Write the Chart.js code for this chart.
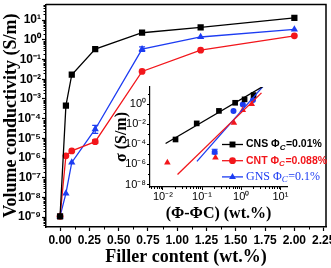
<!DOCTYPE html>
<html><head><meta charset="utf-8">
<script src="https://cdn.jsdelivr.net/npm/chart.js@4/dist/chart.umd.min.js"></script>
<style>
html,body{margin:0;padding:0;background:#fff;}
#wrap{position:relative;width:331px;height:268px;overflow:hidden;}
#main{position:absolute;left:0;top:0;}
#inset{position:absolute;left:100px;top:80px;}
</style></head><body>
<div id="wrap">
<canvas id="main" width="331" height="268"></canvas>
<canvas id="inset" width="231" height="145"></canvas>
</div>
<script>
// ---------- main chart data ----------
const fillerContent = [0, 0.05, 0.1, 0.3, 0.7, 1.2, 2.0];
const cnsValues = [1.1e-9, 4.6e-4, 0.017, 0.34, 2.3, 4.3, 13];
const cntValues = [1.1e-9, 1.3e-6, 2.3e-6, 6.8e-6, 0.025, 0.30, 1.6];
const gnsValues = [1.1e-9, 1.6e-8, 6.0e-7, 2.9e-5, 0.34, 1.4, 3.4];
const cntErrors = [null, null, null, [5.5e-6, 8.5e-6], null, null, null];
const gnsErrors = [null, null, null, [1.8e-5, 4.6e-5], [0.26, 0.44], null, null];
const xTickValues = [0, 0.25, 0.5, 0.75, 1.0, 1.25, 1.5, 1.75, 2.0, 2.25];
const yTickExponents = [-9, -8, -7, -6, -5, -4, -3, -2, -1, 0, 1];

// ---------- inset data ----------
const cnsInsetX = [0.021, 0.073, 0.27, 0.70, 1.22, 2.07];
const cnsInsetY = [3e-4, 0.012, 0.21, 1.35, 2.95, 7.9];
const cntInsetX = [0.013, 0.22, 0.65, 1.10, 1.86];
const cntInsetY = [1.5e-6, 4.7e-6, 0.0135, 0.25, 1.0];
const gnsInsetX = [0.21, 0.635, 1.10, 2.0];
const gnsInsetY = [1.7e-5, 0.2, 0.93, 2.5];
const gnsInsetErrors = [[1.1e-5, 3.2e-5], null, null, null];
const cnsFitX = [0.0117, 4.6];
const cnsFitY = [1.2e-4, 100];
const cntFitX = [0.0236, 3.3];
const cntFitY = [1e-7, 13];
const gnsFitX = [0.074, 4.6];
const gnsFitY = [2e-6, 170];
const insetXTickExponents = [-2, -1, 0, 1];
const insetYTickExponents = [-8, -6, -4, -2, 0];

const legendNames = ['CNS', 'CNT', 'GNS'];
const legendThresholds = ['0.01', '0.088', '0.1'];

const BLACK = '#000000', RED = '#f2161b', BLUE = '#1d3cf2';

const SUP = {'-':'\u207B','0':'\u2070','1':'\u00B9','2':'\u00B2','3':'\u00B3','4':'\u2074','5':'\u2075','6':'\u2076','7':'\u2077','8':'\u2078','9':'\u2079'};
const sup = n => String(n).split('').map(c => SUP[c]).join('');
const pts = (xs, ys) => xs.map((x, i) => ({x: x, y: ys[i]}));

// ---------- plugins ----------
const frame = {
  id: 'frame',
  afterDraw(chart, args, opts) {
    if (!opts.on) return;
    const {left, top, right, bottom} = chart.chartArea;
    const ctx = chart.ctx;
    ctx.save();
    ctx.strokeStyle = '#000';
    ctx.lineWidth = opts.width;
    ctx.beginPath();
    ctx.moveTo(left, top); ctx.lineTo(right, top); ctx.lineTo(right, bottom);
    ctx.stroke();
    ctx.restore();
  }
};

const minorTicks = {
  id: 'minorTicks',
  afterDraw(chart, args, opts) {
    const ctx = chart.ctx;
    ctx.save();
    ctx.strokeStyle = '#000';
    ctx.lineWidth = opts.width || 1;
    const sx = chart.scales.x, sy = chart.scales.y;
    (opts.x || []).forEach(v => {
      if (v < sx.min || v > sx.max) return;
      const p = Math.round(sx.getPixelForValue(v)) + 0.5;
      ctx.beginPath(); ctx.moveTo(p, sx.top); ctx.lineTo(p, sx.top + opts.len); ctx.stroke();
    });
    (opts.y || []).forEach(v => {
      if (v < sy.min || v > sy.max) return;
      const p = Math.round(sy.getPixelForValue(v)) + 0.5;
      ctx.beginPath(); ctx.moveTo(sy.right, p); ctx.lineTo(sy.right - opts.len, p); ctx.stroke();
    });
    ctx.restore();
  }
};

const errorBars = {
  id: 'errorBars',
  afterDatasetsDraw(chart) {
    const ctx = chart.ctx;
    const sy = chart.scales.y;
    chart.data.datasets.forEach((ds, i) => {
      if (!ds.errors) return;
      const meta = chart.getDatasetMeta(i);
      ctx.save();
      ctx.strokeStyle = ds.borderColor;
      ctx.lineWidth = 1.2;
      ds.errors.forEach((e, j) => {
        if (!e) return;
        const x = meta.data[j].x;
        const y1 = sy.getPixelForValue(e[0]), y2 = sy.getPixelForValue(e[1]);
        ctx.beginPath();
        ctx.moveTo(x, y1); ctx.lineTo(x, y2);
        ctx.moveTo(x - 3, y1); ctx.lineTo(x + 3, y1);
        ctx.moveTo(x - 3, y2); ctx.lineTo(x + 3, y2);
        ctx.stroke();
      });
      ctx.restore();
    });
  }
};

function drawMarker(ctx, style, x, y, r, color) {
  ctx.fillStyle = color;
  ctx.beginPath();
  if (style === 'rect') {
    const s = r * Math.SQRT1_2;
    ctx.rect(x - s, y - s, 2 * s, 2 * s);
  } else if (style === 'circle') {
    ctx.arc(x, y, r, 0, Math.PI * 2);
  } else {
    ctx.moveTo(x, y - r);
    ctx.lineTo(x + r * Math.sin(2 * Math.PI / 3), y - r * Math.cos(2 * Math.PI / 3));
    ctx.lineTo(x + r * Math.sin(4 * Math.PI / 3), y - r * Math.cos(4 * Math.PI / 3));
    ctx.closePath();
  }
  ctx.fill();
}

const insetLegend = {
  id: 'insetLegend',
  afterDraw(chart, args, opts) {
    const ctx = chart.ctx, ca = chart.chartArea;
    ctx.save();
    opts.items.forEach((it, i) => {
      const y = ca.top + opts.top + i * opts.gap;
      const x0 = ca.left + opts.left;
      ctx.strokeStyle = it.color;
      ctx.lineWidth = 1.3;
      ctx.beginPath(); ctx.moveTo(x0, y); ctx.lineTo(x0 + 21, y); ctx.stroke();
      drawMarker(ctx, it.style, x0 + 10.5, y, it.r, it.color);
      let x = x0 + 24;
      ctx.fillStyle = it.color;
      ctx.textBaseline = 'middle';
      ctx.textAlign = 'left';
      ctx.font = it.font;
      const t1 = it.name + ' \u03A6';
      ctx.fillText(t1, x, y);
      x += ctx.measureText(t1).width;
      ctx.font = it.subFont;
      ctx.fillText('C', x, y + 3);
      x += ctx.measureText('C').width + 0.5;
      ctx.font = it.font;
      ctx.fillText('=' + it.thr + '%', x, y);
    });
    ctx.restore();
  }
};

// ---------- main chart ----------
const tickFontMain = {family: 'Liberation Sans', weight: 'bold', size: 12};
const titleFontMain = {family: 'Liberation Serif', weight: 'bold', size: 18};

function minorLog(lo, hi) {
  const out = [];
  for (let e = lo; e <= hi; e++) for (let k = 2; k <= 9; k++) out.push(k * Math.pow(10, e));
  return out;
}
const xMinor = xTickValues.map(v => v + 0.125).concat([-0.125]);

new Chart(document.getElementById('main'), {
  type: 'scatter',
  data: {
    datasets: [
      {label: 'CNS', data: pts(fillerContent, cnsValues), showLine: true, borderColor: BLACK, backgroundColor: BLACK,
       pointStyle: 'rect', pointRadius: 4.4, pointBorderWidth: 0, borderWidth: 1.3},
      {label: 'CNT', data: pts(fillerContent, cntValues), showLine: true, borderColor: RED, backgroundColor: RED,
       pointStyle: 'circle', pointRadius: 3.4, pointBorderWidth: 0, borderWidth: 1.3, errors: cntErrors},
      {label: 'GNS', data: pts(fillerContent, gnsValues), showLine: true, borderColor: BLUE, backgroundColor: BLUE,
       pointStyle: 'triangle', pointRadius: 4.2, pointBorderWidth: 0, borderWidth: 1.3, errors: gnsErrors}
    ]
  },
  options: {
    responsive: false, animation: false, devicePixelRatio: 1,
    layout: {padding: {top: 1, right: 5, left: 0, bottom: 0}},
    plugins: {
      legend: {display: false}, tooltip: {enabled: false},
      frame: {on: true, width: 1.5},
      minorTicks: {x: xMinor, y: minorLog(-10, 1), len: 2.5, width: 1}
    },
    scales: {
      x: {
        type: 'linear', min: -0.12, max: 2.27,
        afterBuildTicks: s => { s.ticks = xTickValues.map(v => ({value: v})); },
        afterFit: s => { s.height = 41; s.paddingLeft = 0; s.paddingRight = 0; },
        ticks: {callback: v => Number(v).toFixed(2), font: tickFontMain, color: '#000', padding: 2, maxRotation: 0, autoSkip: false},
        grid: {display: true, drawOnChartArea: false, drawTicks: true, tickLength: 4, tickColor: '#000', tickWidth: 1.2},
        border: {display: true, color: '#000', width: 1.5},
        title: {display: true, text: 'Filler content (wt.%)', font: titleFontMain, color: '#000', padding: {top: 0, bottom: 0}}
      },
      y: {
        type: 'logarithmic', min: Math.pow(10, -9.5), max: Math.pow(10, 1.8),
        afterBuildTicks: s => { s.ticks = yTickExponents.map(e => ({value: Math.pow(10, e)})); },
        afterFit: s => { s.width = 46; s.paddingTop = 0; s.paddingBottom = 0; },
        ticks: {callback: v => '10' + sup(Math.round(Math.log10(v))), font: tickFontMain, color: '#000', padding: 1, autoSkip: false},
        grid: {display: true, drawOnChartArea: false, drawTicks: true, tickLength: 4, tickColor: '#000', tickWidth: 1.2},
        border: {display: true, color: '#000', width: 1.5},
        title: {display: true, text: 'Volume conductivity (S/m)', font: titleFontMain, color: '#000', padding: {top: 1, bottom: 0}}
      }
    }
  },
  plugins: [frame, minorTicks, errorBars]
});

// ---------- inset chart ----------
const tickFontInset = {family: 'Liberation Sans', size: 11};
const titleFontInset = {family: 'Liberation Serif', weight: 'bold', size: 16};

new Chart(document.getElementById('inset'), {
  type: 'scatter',
  data: {
    datasets: [
      {label: 'CNS fit', data: pts(cnsFitX, cnsFitY), showLine: true, borderColor: BLACK, borderWidth: 1.3, pointRadius: 0},
      {label: 'CNT fit', data: pts(cntFitX, cntFitY), showLine: true, borderColor: RED, borderWidth: 1.3, pointRadius: 0},
      {label: 'GNS fit', data: pts(gnsFitX, gnsFitY), showLine: true, borderColor: BLUE, borderWidth: 1.3, pointRadius: 0},
      {label: 'CNS', data: pts(cnsInsetX, cnsInsetY), showLine: false, backgroundColor: BLACK, borderColor: BLACK,
       pointStyle: 'rect', pointRadius: 4.0, pointBorderWidth: 0},
      {label: 'CNT', data: pts(cntInsetX, cntInsetY), showLine: false, backgroundColor: RED, borderColor: RED,
       pointStyle: 'triangle', pointRadius: 3.8, pointBorderWidth: 0},
      {label: 'GNS', data: pts(gnsInsetX, gnsInsetY), showLine: false, backgroundColor: BLUE, borderColor: BLUE,
       pointStyle: 'circle', pointRadius: 3.0, pointBorderWidth: 0, errors: gnsInsetErrors}
    ]
  },
  options: {
    responsive: false, animation: false, devicePixelRatio: 1,
    layout: {padding: {top: 7, right: 44, left: 0, bottom: 0}},
    plugins: {
      legend: {display: false}, tooltip: {enabled: false},
      minorTicks: {x: minorLog(-3, 1), y: [1e-7, 1e-5, 1e-3, 1e-1, 10], len: 2, width: 1},
      insetLegend: {
        left: 72, top: 57.5, gap: 16.2,
        items: legendNames.map((n, i) => ({
          name: n, thr: legendThresholds[i],
          color: [BLACK, RED, BLUE][i],
          style: ['rect', 'circle', 'triangle'][i],
          r: [4.2, 3.4, 4.0][i],
          font: i < 2 ? 'bold 10.5px "Liberation Sans"' : '12px "Liberation Serif"',
          subFont: i < 2 ? 'italic bold 8px "Liberation Sans"' : 'italic 9px "Liberation Serif"'
        }))
      }
    },
    scales: {
      x: {
        type: 'logarithmic', min: Math.pow(10, -2.33), max: Math.pow(10, 1.17),
        afterBuildTicks: s => { s.ticks = insetXTickExponents.map(e => ({value: Math.pow(10, e)})); },
        afterFit: s => { s.height = 38; s.paddingLeft = 0; s.paddingRight = 0; },
        ticks: {callback: v => '10' + sup(Math.round(Math.log10(v))), font: tickFontInset, color: '#000', padding: 0, maxRotation: 0, autoSkip: false},
        grid: {display: true, drawOnChartArea: false, drawTicks: true, tickLength: 3, tickColor: '#000', tickWidth: 1},
        border: {display: true, color: '#000', width: 1.2},
        title: {display: true, text: '(\u03A6-\u03A6C) (wt.%)', font: titleFontInset, color: '#000', padding: {top: 0, bottom: 2}}
      },
      y: {
        type: 'logarithmic', min: Math.pow(10, -8.25), max: Math.pow(10, 1.7),
        afterBuildTicks: s => { s.ticks = insetYTickExponents.map(e => ({value: Math.pow(10, e)})); },
        afterFit: s => { s.width = 50; s.paddingTop = 0; s.paddingBottom = 0; },
        ticks: {callback: v => '10' + sup(Math.round(Math.log10(v))), font: tickFontInset, color: '#000', padding: 1, autoSkip: false},
        grid: {display: true, drawOnChartArea: false, drawTicks: true, tickLength: 3, tickColor: '#000', tickWidth: 1},
        border: {display: true, color: '#000', width: 1.2},
        title: {display: true, text: '\u03C3 (S/m)', font: titleFontInset, color: '#000', padding: {top: 12, bottom: 0}}
      }
    }
  },
  plugins: [minorTicks, errorBars, insetLegend]
});
</script>
</body></html>
